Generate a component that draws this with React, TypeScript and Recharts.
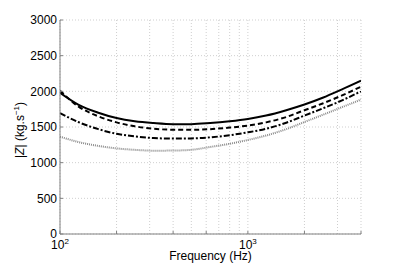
import { LineChart, Line, XAxis, YAxis, CartesianGrid, ReferenceLine } from 'recharts';

const freqs = [100, 125, 160, 200, 250, 315, 400, 500, 630, 800, 1000, 1250, 1600, 2000, 2500, 3150, 4000];
const solid = [1980, 1815, 1700, 1625, 1580, 1555, 1540, 1540, 1555, 1580, 1612, 1660, 1735, 1815, 1910, 2025, 2150];
const dashed = [2010, 1790, 1650, 1565, 1510, 1475, 1462, 1460, 1470, 1492, 1520, 1565, 1640, 1735, 1830, 1940, 2065];
const dashDot = [1695, 1570, 1470, 1405, 1368, 1345, 1338, 1340, 1355, 1385, 1425, 1475, 1560, 1660, 1760, 1870, 2000];
const dotted = [1365, 1290, 1235, 1200, 1180, 1168, 1170, 1180, 1220, 1265, 1318, 1380, 1470, 1570, 1670, 1775, 1885];

const xTicks = [100, 200, 300, 400, 500, 600, 700, 800, 900, 1000, 2000, 3000, 4000];
const yTicks = [0, 500, 1000, 1500, 2000, 2500, 3000];

const data = freqs.map((f, i) => ({
  f,
  solid: solid[i],
  dashed: dashed[i],
  dashDot: dashDot[i],
  dotted: dotted[i],
}));

const font = '"Liberation Sans", Arial, sans-serif';
const axisGray = '#808080';

const XTick = ({ x, payload }: any) => {
  const v = payload.value;
  if (v !== 100 && v !== 1000) return null;
  const exp = v === 100 ? '2' : '3';
  return (
    <text x={x} y={249} textAnchor="middle" fontSize={12} fontFamily={font} fill="#000">
      10
      <tspan dy={-5} fontSize={8}>{exp}</tspan>
    </text>
  );
};

const NoTick = () => null;

const XLabel = ({ viewBox }: any) => (
  <text
    x={viewBox.x + viewBox.width / 2}
    y={260}
    textAnchor="middle"
    fontSize={12}
    fontFamily={font}
    fill="#000"
  >
    Frequency (Hz)
  </text>
);

const YLabel = ({ viewBox }: any) => {
  const cx = 24;
  const cy = viewBox.y + viewBox.height / 2 + 3;
  return (
    <text
      x={cx}
      y={cy}
      transform={`rotate(-90 ${cx} ${cy})`}
      textAnchor="middle"
      fontSize={12}
      fontFamily={font}
      fill="#000"
    >
      |<tspan fontStyle="italic">Z</tspan>| (kg.s
      <tspan dy={-5} fontSize={8}>−1</tspan>
      <tspan dy={5}>)</tspan>
    </text>
  );
};

export default function App() {
  return (
    <div style={{ position: 'absolute', left: 0, top: 0, background: '#fff' }}>
      <LineChart width={399} height={264} data={data} margin={{ top: 20, right: 38, bottom: 0, left: 0 }}>
        <CartesianGrid stroke="#cfcfcf" strokeDasharray="1 2" vertical={false} />
        {/* vertical grid at the log minor ticks */}
        {xTicks.map((t) => (
          <ReferenceLine key={t} x={t} stroke="#cfcfcf" strokeDasharray="1 2" />
        ))}
        <XAxis
          dataKey="f"
          type="number"
          scale="log"
          domain={[100, 4000]}
          ticks={xTicks}
          tick={<XTick />}
          tickSize={-3}
          tickLine={{ stroke: axisGray }}
          axisLine={{ stroke: axisGray }}
          height={30}
          allowDataOverflow
          label={<XLabel />}
        />
        <XAxis
          xAxisId="top"
          orientation="top"
          dataKey="f"
          type="number"
          scale="log"
          domain={[100, 4000]}
          ticks={xTicks}
          tick={<NoTick />}
          tickSize={-3}
          tickLine={{ stroke: axisGray }}
          axisLine={{ stroke: axisGray }}
          height={0}
          allowDataOverflow
        />
        <YAxis
          type="number"
          domain={[0, 3000]}
          ticks={yTicks}
          width={60}
          tickSize={-3}
          tickMargin={6}
          tickLine={{ stroke: axisGray }}
          axisLine={{ stroke: axisGray }}
          tick={{ fontSize: 12, fontFamily: font, fill: '#000' }}
          label={<YLabel />}
        />
        <YAxis
          yAxisId="right"
          orientation="right"
          domain={[0, 3000]}
          ticks={yTicks}
          tick={<NoTick />}
          tickSize={-3}
          tickLine={{ stroke: axisGray }}
          axisLine={{ stroke: axisGray }}
          width={0}
        />
        <Line dataKey="dotted" type="monotone" stroke="#8a8a8a" strokeWidth={2} strokeDasharray="1 1" dot={false} isAnimationActive={false} />
        <Line dataKey="dashDot" type="monotone" stroke="#000" strokeWidth={2} strokeDasharray="6 2 2 2" dot={false} isAnimationActive={false} />
        <Line dataKey="dashed" type="monotone" stroke="#000" strokeWidth={2} strokeDasharray="5 3" dot={false} isAnimationActive={false} />
        <Line dataKey="solid" type="monotone" stroke="#000" strokeWidth={2} dot={false} isAnimationActive={false} />
      </LineChart>
    </div>
  );
}
